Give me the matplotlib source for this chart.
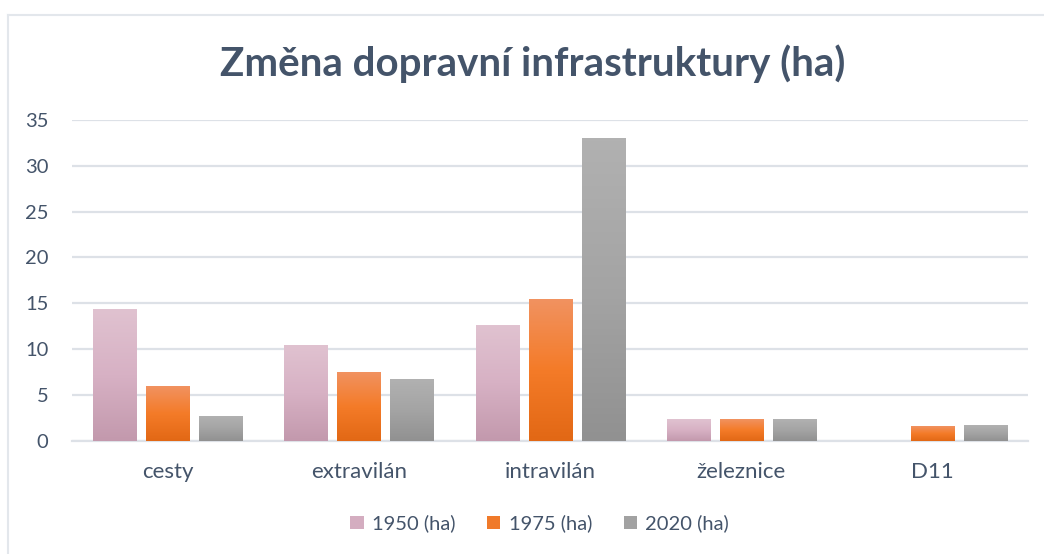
import matplotlib.pyplot as plt
import numpy as np
from matplotlib.colors import LinearSegmentedColormap
from matplotlib.patches import Patch
from matplotlib.lines import Line2D

kategorie = ["cesty", "extravilán", "intravilán", "železnice", "D11"]
roky = ["1950 (ha)", "1975 (ha)", "2020 (ha)"]
h1950 = [14.4, 10.4, 12.6, 2.4, 0]
h1975 = [5.9, 7.5, 15.4, 2.4, 1.6]
h2020 = [2.7, 6.7, 33.0, 2.4, 1.7]

# barvy prechodu (nahore -> dole)
prechody = [
    ["#E0C2D0", "#D7B1C4", "#C399AD"],
    ["#F19260", "#F47B28", "#E26815"],
    ["#B1B1B1", "#A4A4A4", "#919191"],
]
legenda_barvy = ["#D4ADC0", "#F07A2A", "#A2A2A2"]
text_barva = "#44546A"

plt.rcParams['font.family'] = ['Lato', 'DejaVu Sans']

fig = plt.figure(figsize=(10.44, 5.54), dpi=100)
ax = fig.add_axes([0.069, 0.2045, 0.916, 0.579])

x = np.arange(len(kategorie))
sirka = 0.225
posun = 0.277
serie = [h1950, h1975, h2020]

for i, hodnoty in enumerate(serie):
    cmap = LinearSegmentedColormap.from_list("g%d" % i, prechody[i])
    grad = np.linspace(0, 1, 100).reshape(-1, 1)
    bary = ax.bar(x + (i - 1) * posun, hodnoty, sirka, color=prechody[i][1],
                  linewidth=0, zorder=2)
    for b in bary:
        if b.get_height() <= 0:
            continue
        x0, y0 = b.get_x(), b.get_y()
        ax.imshow(grad, extent=[x0, x0 + b.get_width(), y0, y0 + b.get_height()],
                  aspect="auto", cmap=cmap, origin="upper", zorder=3)

ax.set_xlim(-0.5, len(kategorie) - 0.5)
ax.set_ylim(0, 35)
ax.set_yticks(range(0, 36, 5))
ax.set_xticks(x)
ax.set_xticklabels(kategorie)
ax.yaxis.grid(True, color="#DDE1E7", linewidth=1.6, zorder=0)
ax.set_axisbelow(True)
for s in ["top", "right", "left"]:
    ax.spines[s].set_visible(False)
ax.spines["bottom"].set_color("#DDE1E7")
ax.spines["bottom"].set_linewidth(1.6)
ax.tick_params(axis="both", length=0, labelsize=14.5, colors=text_barva)
ax.tick_params(axis="y", pad=17)
ax.tick_params(axis="x", pad=15, labelsize=16)

fig.suptitle("Změna dopravní infrastruktury (ha)", x=0.51, y=0.92,
             fontsize=29, fontweight="bold", color=text_barva)

handles = [Patch(facecolor=c, edgecolor="none") for c in legenda_barvy]
fig.legend(handles, roky, loc="center", bbox_to_anchor=(0.517, 0.055), ncol=3,
           frameon=False, fontsize=14.5, labelcolor=text_barva,
           handlelength=0.65, handleheight=0.65, handletextpad=0.4, columnspacing=1.6)

# ramecek grafu
fig.add_artist(Line2D([8 / 1044, 1], [1 - 15 / 554, 1 - 15 / 554], color="#E3E7EC", linewidth=1.5))
fig.add_artist(Line2D([8 / 1044, 8 / 1044], [0, 1 - 15 / 554], color="#E3E7EC", linewidth=1.5))

fig.savefig("out.png", dpi=100)
